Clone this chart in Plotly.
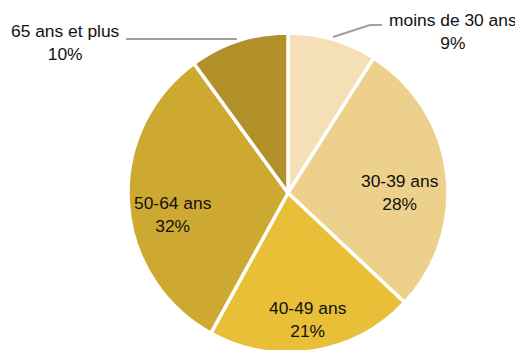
import plotly.graph_objects as go

# Répartition par âge
labels = ["moins de 30 ans", "30-39 ans", "40-49 ans", "50-64 ans", "65 ans et plus"]
values = [9, 28, 21, 32, 10]
colors = ["#F4DFB7", "#EDD08B", "#E8BF37", "#CEA931", "#B18F29"]

# page has an 8px body margin, so the figure is offset by 8px
OFF = 8
W, H = 515, 360

FONT = "Liberation Sans, Arial, sans-serif"


def px(x, y):
    # page pixel -> paper coords
    return (x - OFF) / W, 1 - (y - OFF) / H


# pie: centre (288, 193) on the page, radius 160
cx, cy, r = 288, 193, 160
x0, _ = px(cx - r, 0)
x1, _ = px(cx + r, 0)
_, y1 = px(0, cy - r)
_, y0 = px(0, cy + r)

fig = go.Figure(
    go.Pie(
        labels=labels,
        values=values,
        sort=False,
        direction="clockwise",
        rotation=0,
        marker=dict(colors=colors, line=dict(color="white", width=3.5)),
        textinfo="none",
        hoverinfo="label+percent",
        domain=dict(x=[x0, x1], y=[y0, y1]),
        showlegend=False,
    )
)

# label positions (page pixels), kept apart from the data
label_pos = [(453, 31), (400, 193), (308, 319), (173, 214), (65, 42)]
for lab, val, (lx, ly) in zip(labels, values, label_pos):
    x, y = px(lx, ly)
    fig.add_annotation(
        x=x, y=y, xref="paper", yref="paper",
        xanchor="center", yanchor="middle",
        text=f"{lab}<br>{val}%",
        showarrow=False,
        font=dict(family=FONT, size=17.4, color="#111111"),
        align="center",
    )

# leader lines for the small slices
leaders = [
    [(333, 37), (370, 25), (382, 25)],
    [(126, 39), (237, 39)],
]
for pts in leaders:
    for (a, b), (c, d) in zip(pts[:-1], pts[1:]):
        a0, b0 = px(a, b)
        a1, b1 = px(c, d)
        fig.add_shape(type="line", xref="paper", yref="paper",
                      x0=a0, y0=b0, x1=a1, y1=b1,
                      line=dict(color="#A0A0A0", width=2))

fig.update_layout(
    width=W,
    height=H,
    margin=dict(l=0, r=0, t=0, b=0),
    paper_bgcolor="white",
    plot_bgcolor="white",
)

fig.write_html("out.html")
